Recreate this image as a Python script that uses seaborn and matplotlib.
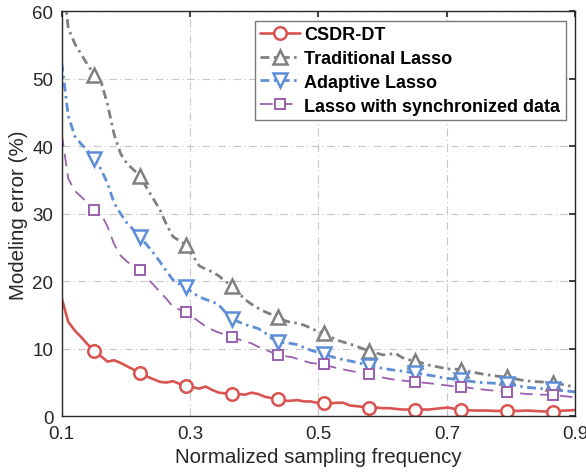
import numpy as np
import pandas as pd
import matplotlib
matplotlib.use("Agg")
import matplotlib.pyplot as plt
import seaborn as sns

# Normalized sampling frequency grid and marker positions
freq = np.round(0.1 + 0.0102 * np.arange(80), 4)
marker_idx = list(range(5, 80, 7))

csdr_dt = [17.5, 14.0, 12.7, 11.7, 10.6, 9.7, 8.9, 8.1, 8.3, 7.9,
           7.4, 6.9, 6.4, 5.9, 5.5, 5.1, 5.0, 5.2, 4.8, 4.5,
           4.3, 4.1, 4.4, 3.9, 3.5, 3.4, 3.3, 3.3, 3.2, 3.5,
           3.3, 2.9, 2.7, 2.6, 2.3, 2.3, 2.4, 2.2, 2.2, 2.0,
           1.9, 1.9, 2.0, 2.0, 1.6, 1.5, 1.4, 1.3, 1.3, 1.2,
           1.2, 1.1, 1.0, 1.0, 0.9, 1.0, 1.0, 1.1, 1.2, 1.3,
           1.1, 0.95, 0.9, 0.85, 0.85, 0.85, 0.8, 0.8, 0.8, 0.8,
           0.8, 0.85, 0.8, 0.75, 0.7, 0.65, 0.8, 0.85, 0.9, 0.95]

traditional_lasso = [66.0, 57.5, 55.2, 53.6, 52.0, 50.6, 49.6, 46.2, 41.8, 38.9,
                     37.4, 36.5, 35.6, 33.8, 32.2, 30.6, 28.4, 26.6, 26.0, 25.4,
                     23.8, 22.3, 21.8, 21.4, 20.8, 20.0, 19.3, 18.3, 17.3, 16.6,
                     16.0, 15.5, 15.1, 14.7, 14.2, 13.9, 13.8, 13.5, 13.1, 12.6,
                     12.3, 11.8, 11.3, 11.0, 10.7, 10.4, 10.0, 9.7, 9.4, 9.1,
                     9.2, 9.3, 8.7, 8.4, 8.2, 7.9, 7.6, 7.4, 7.2, 7.0,
                     7.0, 6.9, 6.7, 6.5, 6.3, 6.15, 6.0, 5.9, 5.8, 5.6,
                     5.4, 5.25, 5.15, 5.1, 5.05, 5.0, 4.8, 4.6, 4.4, 4.2]

adaptive_lasso = [52.4, 44.5, 41.5, 40.3, 39.3, 38.1, 36.6, 34.5, 31.6, 30.0,
                  28.6, 27.6, 26.5, 25.4, 24.2, 22.9, 21.5, 20.2, 19.6, 19.1,
                  18.3, 17.7, 17.3, 17.0, 16.5, 15.4, 14.4, 14.0, 13.6, 13.3,
                  13.0, 12.4, 11.6, 11.0, 10.9, 10.8, 10.6, 10.2, 9.8, 9.5,
                  9.2, 8.9, 8.6, 8.4, 8.2, 8.0, 7.75, 7.5, 7.3, 7.1,
                  6.95, 6.8, 6.7, 6.55, 6.4, 6.25, 6.1, 5.95, 5.75, 5.6,
                  5.5, 5.4, 5.25, 5.1, 5.0, 4.95, 4.9, 4.85, 4.8, 4.6,
                  4.45, 4.3, 4.2, 4.1, 4.05, 4.0, 3.85, 3.75, 3.65, 3.55]

lasso_sync = [41.8, 35.2, 33.4, 32.5, 31.6, 30.6, 30.0, 28.1, 25.5, 23.8,
              22.9, 22.2, 21.6, 20.5, 19.5, 18.4, 17.4, 16.2, 15.8, 15.5,
              14.7, 14.0, 13.3, 12.8, 12.4, 12.1, 11.8, 11.4, 11.1, 10.8,
              10.3, 9.9, 9.5, 9.1, 8.9, 8.8, 8.5, 8.2, 7.9, 7.8,
              7.7, 7.4, 7.15, 6.95, 6.75, 6.55, 6.35, 6.2, 6.0, 5.75,
              5.55, 5.4, 5.3, 5.2, 5.1, 5.0, 4.9, 4.8, 4.65, 4.55,
              4.45, 4.4, 4.25, 4.1, 4.0, 3.9, 3.8, 3.7, 3.6, 3.5,
              3.4, 3.3, 3.25, 3.2, 3.2, 3.2, 3.05, 2.95, 2.85, 2.75]

labels = ["CSDR-DT", "Traditional Lasso", "Adaptive Lasso",
          "Lasso with synchronized data"]
xticks = [0.1, 0.3, 0.5, 0.7, 0.9]
yticks = [0, 10, 20, 30, 40, 50, 60]

sns.set_theme(style="white")
plt.rcParams["font.family"] = ["Liberation Sans", "DejaVu Sans"]
plt.rcParams["xtick.direction"] = "in"
plt.rcParams["ytick.direction"] = "in"

fig = plt.figure(figsize=(5.86, 4.77), dpi=100)
ax = fig.add_axes([0.1053, 0.1252, 0.8764, 0.849])

styles = [
    dict(color="#d9534f", linestyle="-", linewidth=1.9, marker="o",
         markersize=9, markeredgewidth=1.8),
    dict(color="#7f8080", linestyle=(0, (3.2, 1.6, 0.9, 1.6)), linewidth=2.0,
         marker="^", markersize=10, markeredgewidth=1.8),
    dict(color="#5d8fd8", linestyle=(0, (3.2, 1.6, 0.9, 1.6)), linewidth=2.0,
         marker="v", markersize=10, markeredgewidth=1.8),
    dict(color="#9a5fb0", linestyle=(0, (7, 4)), linewidth=1.3,
         marker="s", markersize=7, markeredgewidth=1.4),
]

for series, label, st in zip([csdr_dt, traditional_lasso, adaptive_lasso, lasso_sync],
                             labels, styles):
    df = pd.DataFrame({"freq": freq, "err": series})
    sns.lineplot(data=df, x="freq", y="err", ax=ax, label=label,
                 markevery=marker_idx, markerfacecolor="white",
                 markeredgecolor=st["color"], **st)

ax.set_xlim(0.1, 0.9)
ax.set_ylim(0, 60)
ax.set_xticks(xticks)
ax.set_xticklabels([f"{t:g}" for t in xticks])
ax.set_yticks(yticks)
ax.tick_params(axis="both", labelsize=13.5, colors="#262626", length=4,
               top=True, right=True, pad=6)
ax.grid(True, color="#c8c8c8", linestyle=(0, (7, 3, 1, 3)), linewidth=0.8)
for s in ax.spines.values():
    s.set_color("#262626")
    s.set_linewidth(1.0)
ax.set_xlabel("Normalized sampling frequency", fontsize=14.8, color="#262626",
              labelpad=4)
ax.set_ylabel("Modeling error (%)", fontsize=14.8, color="#262626", labelpad=3)

leg = ax.legend(loc="upper right", bbox_to_anchor=(0.9815, 0.977),
                prop={"weight": "bold", "size": 13}, frameon=True,
                fancybox=False, edgecolor="#7a7a7a", framealpha=1,
                handlelength=2.2, handletextpad=0.25, borderpad=0.3,
                labelspacing=0.38, borderaxespad=0)
leg.get_frame().set_linewidth(1.0)
for t in leg.get_texts():
    t.set_color("black")

fig.savefig("out.png", dpi=100)
